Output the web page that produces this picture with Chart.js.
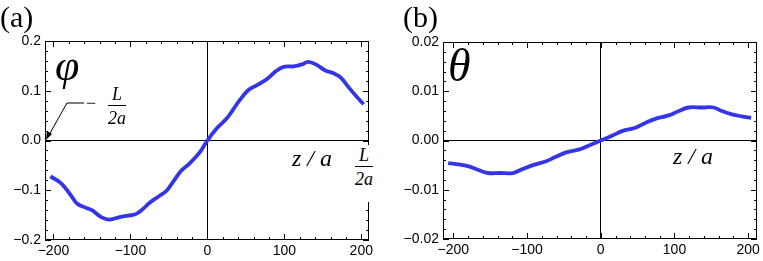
<!DOCTYPE html>
<html>
<head>
<meta charset="utf-8">
<script src="https://cdn.jsdelivr.net/npm/chart.js@4/dist/chart.umd.min.js"></script>
<style>
  body { margin: 0; background: #fff; }
  #wrap { position: relative; width: 763px; height: 261px; overflow: hidden; }
  canvas { position: absolute; top: 0; }
  .lbl { position: absolute; font-family: "Liberation Serif", "Times New Roman", "DejaVu Serif", serif; color: #000; line-height: 1; white-space: nowrap; }
  .it { font-style: italic; }
  .frac { position: absolute; font-family: "Liberation Serif", "Times New Roman", "DejaVu Serif", serif; font-style: italic; font-size: 18px; line-height: 1;
          display: flex; flex-direction: column; align-items: center; background: #fff; }
  .frac .bar { border-top: 1px solid #000; align-self: stretch; margin: 2px 0 3px; }
</style>
</head>
<body>
<div id="wrap">
  <canvas id="chartA" width="380" height="261" style="left:0"></canvas>
  <canvas id="chartB" width="383" height="261" style="left:380px"></canvas>

  <div class="lbl" style="left:0;top:2px;font-size:30px">(a)</div>
  <div class="lbl it" style="left:55px;top:44px;font-size:44px">φ</div>
  <div class="lbl" style="left:86px;top:94px;font-size:18px">−</div>
  <div class="frac" style="left:106px;top:85px;padding:0 2px"><span>L</span><span class="bar"></span><span>2a</span></div>
  <div class="lbl it" style="left:292px;top:146px;font-size:24px">z / a</div>
  <div class="frac" style="left:350px;top:145px;padding:1px 4px 14px 5px"><span>L</span><span class="bar"></span><span>2a</span></div>
  <svg style="position:absolute;left:0;top:0" width="380" height="261">
    <polyline points="84,103 67,103 49,135" fill="none" stroke="#000" stroke-width="1"/>
    <polygon points="46,140 47,131 52,134" fill="#000"/>
  </svg>

  <div class="lbl" style="left:403px;top:2px;font-size:30px">(b)</div>
  <div class="lbl it" style="left:448px;top:43px;font-size:46px">θ</div>
  <div class="lbl it" style="left:673px;top:144px;font-size:24px">z / a</div>
</div>

<script>
// panel (a): phi vs z/a
var zA   = [-204, -190, -177, -169, -158, -149, -138, -127, -114, -103, -93, -84, -75, -64, -53, -45, -34, -23, -10, 0,
            12, 25, 33, 42, 53, 64, 77, 88, 99, 112, 123, 131, 142, 153, 164, 173, 183, 194, 203];
var phiA = [-0.072, -0.086, -0.111, -0.127, -0.135, -0.141, -0.154, -0.159, -0.154, -0.151, -0.148, -0.138, -0.125, -0.113, -0.101, -0.084, -0.061, -0.046, -0.024, 0,
            0.024, 0.044, 0.061, 0.081, 0.101, 0.111, 0.123, 0.138, 0.148, 0.149, 0.153, 0.158, 0.152, 0.141, 0.135, 0.127, 0.108, 0.088, 0.073];

// panel (b): theta vs z/a
var zB     = [-207, -191, -178, -164, -153, -137, -119, -106, -92, -74, -61, -47, -29, -16, 0,
              16, 29, 47, 61, 74, 92, 106, 119, 137, 153, 164, 178, 191, 204];
var thetaB = [-0.0046, -0.0049, -0.0053, -0.0061, -0.0066, -0.0066, -0.0066, -0.0058, -0.0050, -0.0042, -0.0033, -0.0024, -0.0018, -0.0010, 0,
              0.0010, 0.0019, 0.0026, 0.0036, 0.0044, 0.0051, 0.0060, 0.0067, 0.0067, 0.0067, 0.0060, 0.0053, 0.0049, 0.0046];

var xTicks  = [-200, -100, 0, 100, 200];
var yTicksA = [-0.2, -0.1, 0, 0.1, 0.2];
var yTicksB = [-0.02, -0.01, 0, 0.01, 0.02];

var curveColor = 'rgb(52,52,232)';

function toPoints(xs, ys) {
  var pts = [];
  for (var i = 0; i < xs.length; i++) pts.push({x: xs[i], y: ys[i]});
  return pts;
}

function fmt(v, dec) {
  var s = Math.abs(v).toFixed(dec);
  return v < -1e-12 ? '\u2212' + s : s;
}

// Mathematica-style frame with inward major/minor ticks on all four sides
var frameTicks = {
  id: 'frameTicks',
  afterDatasetsDraw: function(chart, args, opts) {
    var ctx = chart.ctx, a = chart.chartArea, x = chart.scales.x, y = chart.scales.y;
    ctx.save();
    ctx.strokeStyle = '#000';
    ctx.lineWidth = 1;
    ctx.strokeRect(Math.round(a.left) + 0.5, Math.round(a.top) + 0.5,
                   Math.round(a.right - a.left) - 1, Math.round(a.bottom - a.top) - 1);
    ctx.beginPath();
    var i, v, p, len;
    for (i = Math.ceil(x.min / opts.xMinor); i * opts.xMinor <= x.max; i++) {
      v = i * opts.xMinor;
      len = Math.abs(v / opts.xMajor - Math.round(v / opts.xMajor)) < 1e-6 ? 6 : 3;
      p = Math.round(x.getPixelForValue(v)) + 0.5;
      ctx.moveTo(p, a.bottom); ctx.lineTo(p, a.bottom - len);
      ctx.moveTo(p, a.top); ctx.lineTo(p, a.top + len);
    }
    for (i = Math.ceil(y.min / opts.yMinor - 1e-6); i * opts.yMinor <= y.max + 1e-9; i++) {
      v = i * opts.yMinor;
      len = Math.abs(v / opts.yMajor - Math.round(v / opts.yMajor)) < 1e-6 ? 6 : 3;
      p = Math.round(y.getPixelForValue(v)) + 0.5;
      ctx.moveTo(a.left, p); ctx.lineTo(a.left + len, p);
      ctx.moveTo(a.right, p); ctx.lineTo(a.right - len, p);
    }
    ctx.stroke();
    ctx.restore();
  }
};

function zeroLine(c) {
  return c.tick && Math.abs(c.tick.value) < 1e-9 ? '#000' : 'rgba(0,0,0,0)';
}

function makeChart(id, xs, ys, o) {
  return new Chart(document.getElementById(id), {
    type: 'line',
    data: {
      datasets: [{
        data: toPoints(xs, ys),
        borderColor: curveColor,
        borderWidth: 3.8,
        pointRadius: 0,
        tension: 0.4,
        fill: false
      }]
    },
    options: {
      responsive: false,
      animation: false,
      devicePixelRatio: 1,
      layout: { padding: { top: o.top, right: o.right, left: 0, bottom: 0 } },
      plugins: {
        legend: { display: false },
        tooltip: { enabled: false },
        frameTicks: o.ticks
      },
      scales: {
        x: {
          type: 'linear',
          min: o.xmin, max: o.xmax,
          afterBuildTicks: function(s) { s.ticks = xTicks.map(function(v) { return {value: v}; }); },
          afterFit: function(s) { s.height = o.xh; },
          border: { display: false },
          grid: { color: zeroLine, drawTicks: false, lineWidth: 1 },
          ticks: { color: '#000', padding: 3, maxRotation: 0, font: { family: 'Liberation Sans', size: 14 },
                   callback: function(v) { return fmt(v, 0); } }
        },
        y: {
          min: o.ymin, max: o.ymax,
          afterBuildTicks: function(s) { s.ticks = o.yTicks.map(function(v) { return {value: v}; }); },
          afterFit: function(s) { s.width = o.yw; },
          border: { display: false },
          grid: { color: zeroLine, drawTicks: false, lineWidth: 1 },
          ticks: { color: '#000', padding: 4, font: { family: 'Liberation Sans', size: 14 },
                   callback: function(v) { return fmt(v, o.dec); } }
        }
      }
    },
    plugins: [frameTicks]
  });
}

makeChart('chartA', zA, phiA, {
  xmin: -211, xmax: 210, ymin: -0.2, ymax: 0.2, yTicks: yTicksA, dec: 1,
  top: 41, right: 11, yw: 45, xh: 21,
  ticks: { xMajor: 100, xMinor: 20, yMajor: 0.1, yMinor: 0.02 }
});

makeChart('chartB', zB, thetaB, {
  xmin: -214, xmax: 212, ymin: -0.02, ymax: 0.02, yTicks: yTicksB, dec: 2,
  top: 42, right: 4, yw: 63, xh: 22,
  ticks: { xMajor: 100, xMinor: 20, yMajor: 0.01, yMinor: 0.002 }
});
</script>
</body>
</html>
